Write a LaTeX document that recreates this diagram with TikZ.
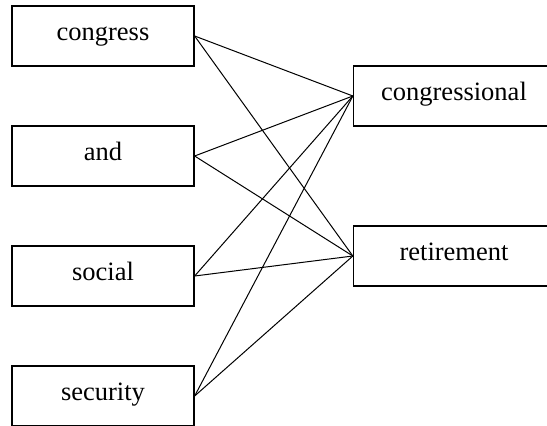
\documentclass[tikz,border=0pt]{standalone}
\usepackage{fontspec}
\setmainfont{Liberation Serif}
\begin{document}
\begin{tikzpicture}[x=1pt,y=-1pt,
  wbox/.style={draw,line width=1.3pt,rectangle,inner sep=0pt,minimum height=60pt,
    text height=18pt,text depth=10pt,font=\fontsize{26.5}{30}\selectfont},
  lbox/.style={wbox,minimum width=182pt},
  rbox/.style={wbox,minimum width=201pt},
  link/.style={line width=1pt}]
\clip (0,0) rectangle (547,426);
\node[lbox] (congress) at (103,36) {congress};
\node[lbox] (and) at (103,156) {and};
\node[lbox] (social) at (103,276) {social};
\node[lbox] (security) at (103,396) {security};
\node[rbox] (congressional) at (454,96) {congressional};
\node[rbox] (retirement) at (454,256) {retirement};
\foreach \a in {congress,and,social,security}{
  \draw[link] (\a.east) -- (congressional.west);
  \draw[link] (\a.east) -- (retirement.west);
}
\end{tikzpicture}
\end{document}
